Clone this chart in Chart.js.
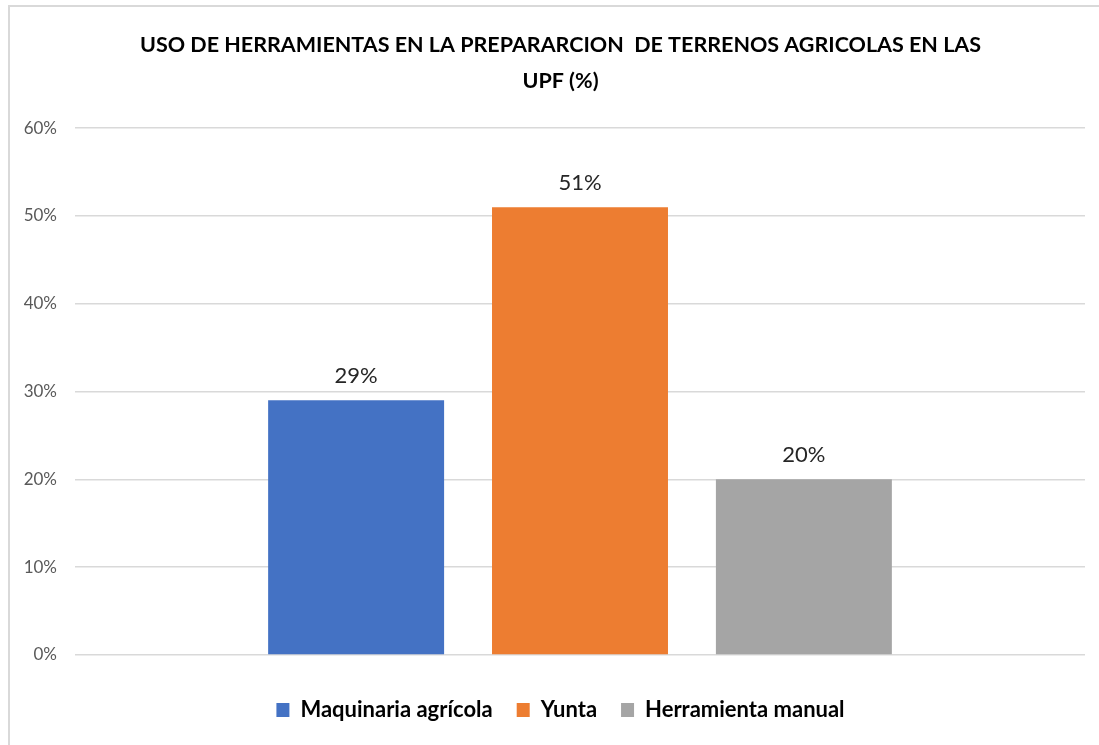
<!DOCTYPE html>
<html>
<head>
<meta charset="utf-8">
<script src="https://cdn.jsdelivr.net/npm/chart.js@4"></script>
<style>
  html, body { margin: 0; padding: 0; background: #fff; }
  #wrap { position: relative; width: 1099px; height: 745px; }
  #frame { position: absolute; left: 8px; top: 5px; right: -10px; bottom: -10px;
           border-left: 2px solid #d9d9d9; border-top: 2px solid #d9d9d9; pointer-events: none; }
</style>
</head>
<body>
<div id="wrap">
  <canvas id="toolChart" width="1099" height="745"></canvas>
  <div id="frame"></div>
</div>
<script>
const chartTitle = ['USO DE HERRAMIENTAS EN LA PREPARARCION  DE TERRENOS AGRICOLAS EN LAS', 'UPF (%)'];
const categories = [''];
const seriesNames = ['Maquinaria agrícola', 'Yunta', 'Herramienta manual'];
const seriesValues = [29, 51, 20]; // %
const seriesColors = ['#4472C4', '#ED7D31', '#A5A5A5'];
const yTicks = [0, 10, 20, 30, 40, 50, 60];

const fontFamily = 'Lato, "Open Sans", sans-serif';

// etiquetas de valor encima de cada barra
const valueLabels = {
    id: 'valueLabels',
    afterDatasetsDraw(chart) {
        const ctx = chart.ctx;
        ctx.save();
        ctx.font = '22px ' + fontFamily;
        ctx.fillStyle = '#262626';
        ctx.textAlign = 'center';
        ctx.textBaseline = 'bottom';
        chart.data.datasets.forEach((ds, i) => {
            chart.getDatasetMeta(i).data.forEach((bar, j) => {
                ctx.fillText(ds.data[j] + '%', bar.x, bar.y - 13);
            });
        });
        ctx.restore();
    }
};

const ctx = document.getElementById('toolChart').getContext('2d');

const toolChart = new Chart(ctx, {
    type: 'bar',
    data: {
        labels: categories,
        datasets: seriesNames.map((name, i) => ({
            label: name,
            data: [seriesValues[i]],
            backgroundColor: seriesColors[i],
            borderWidth: 0
        }))
    },
    options: {
        responsive: false,
        animation: false,
        categoryPercentage: 0.665,
        barPercentage: 0.786,
        layout: {
            // el título del original está algo desplazado a la derecha
            padding: { left: 10, right: -12, top: 6, bottom: 14 }
        },
        scales: {
            x: {
                display: true,
                grid: { display: false },
                border: { display: false },
                ticks: { display: false },
                afterFit(axis) {
                    axis.height = 20;
                }
            },
            y: {
                min: yTicks[0],
                max: yTicks[yTicks.length - 1],
                afterBuildTicks(axis) {
                    axis.ticks = yTicks.map(v => ({ value: v }));
                },
                afterFit(axis) {
                    axis.width = 65;
                },
                border: { display: false },
                grid: {
                    color: '#d9d9d9',
                    lineWidth: 1.5,
                    drawTicks: false
                },
                ticks: {
                    padding: 18,
                    color: '#595959',
                    font: { family: fontFamily, size: 17 },
                    callback: v => v + '%'
                }
            },
            yRight: {
                position: 'right',
                display: true,
                grid: { display: false },
                border: { display: false },
                ticks: { display: false },
                afterFit(axis) {
                    axis.width = 26;
                }
            }
        },
        plugins: {
            title: {
                display: true,
                text: chartTitle,
                color: '#000',
                font: { family: fontFamily, size: 21.5, weight: 'bold', lineHeight: 1.63 },
                padding: { top: 22, bottom: 30 }
            },
            legend: {
                display: true,
                position: 'bottom',
                labels: {
                    color: '#000',
                    font: { family: fontFamily, size: 22, weight: 'bold' },
                    boxWidth: 13,
                    boxHeight: 14,
                    padding: 24
                }
            },
            tooltip: {
                enabled: false
            }
        }
    },
    plugins: [valueLabels]
});
</script>
</body>
</html>
